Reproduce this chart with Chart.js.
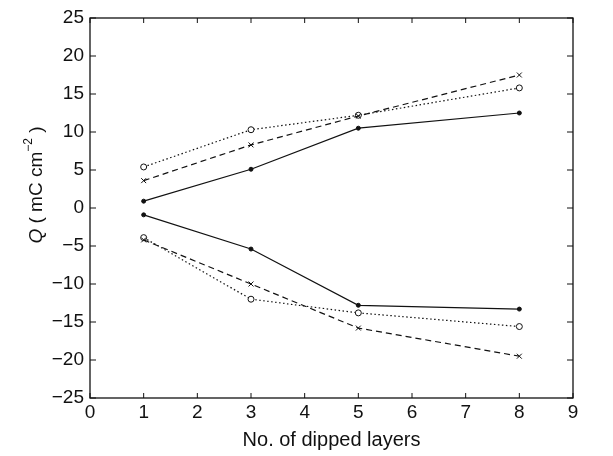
<!DOCTYPE html>
<html>
<head>
<meta charset="utf-8">
<script src="https://cdn.jsdelivr.net/npm/chart.js@4"></script>
<style>
  html, body { margin: 0; padding: 0; background: #fff; }
  #wrap { width: 613px; height: 456px; }
</style>
</head>
<body>
<div id="wrap"><canvas id="c"></canvas></div>
<script>
// number of dipped layers
const layers = [1, 3, 5, 8];
// upper branch
const upSolid  = [0.9, 5.1, 10.5, 12.5];
const upDashed = [3.6, 8.3, 12.1, 17.5];
const upDotted = [5.4, 10.3, 12.2, 15.8];
// lower branch
const lowSolid  = [-0.9, -5.4, -12.8, -13.3];
const lowDashed = [-4.2, -10.0, -15.8, -19.5];
const lowDotted = [-3.9, -12.0, -13.8, -15.6];

const FONT = 'Liberation Sans, Arial, sans-serif';

const pts = (ys) => layers.map((x, i) => ({ x, y: ys[i] }));

const styles = {
  solid:  { borderDash: [], pointStyle: 'circle', pointRadius: 2, pointBackgroundColor: '#111' },
  dashed: { borderDash: [6, 4], pointStyle: 'crossRot', pointRadius: 3.5, pointBackgroundColor: '#111' },
  dotted: { borderDash: [1.5, 2.5], pointStyle: 'circle', pointRadius: 3, pointBackgroundColor: '#fff' }
};

const mk = (label, ys, kind) => Object.assign({
  label,
  data: pts(ys),
  borderColor: '#111',
  borderWidth: 1.2,
  pointBorderColor: '#111',
  pointBorderWidth: 1,
  tension: 0,
  fill: false
}, styles[kind]);

// frame, inward ticks and the y title
const framePlugin = {
  id: 'frame',
  afterDraw(chart) {
    const { ctx, chartArea: a, scales: { x, y } } = chart;
    ctx.save();
    ctx.strokeStyle = '#111';
    ctx.lineWidth = 1.3;
    ctx.strokeRect(a.left, a.top, a.right - a.left, a.bottom - a.top);
    ctx.lineWidth = 1;
    ctx.beginPath();
    for (let v = 0; v <= 9; v++) {
      const px = x.getPixelForValue(v);
      ctx.moveTo(px, a.bottom); ctx.lineTo(px, a.bottom - 5);
      ctx.moveTo(px, a.top); ctx.lineTo(px, a.top + 5);
    }
    for (let v = -25; v <= 25; v += 5) {
      const py = y.getPixelForValue(v);
      ctx.moveTo(a.left, py); ctx.lineTo(a.left + 6, py);
      ctx.moveTo(a.right, py); ctx.lineTo(a.right - 6, py);
    }
    ctx.stroke();

    // y title: Q ( mC cm^-2 )
    ctx.translate(37, 185);
    ctx.rotate(-Math.PI / 2);
    ctx.fillStyle = '#111';
    ctx.textBaseline = 'middle';
    const parts = [
      { t: 'Q', f: 'italic 19px ' + FONT, dy: 0 },
      { t: ' ( mC cm', f: '19px ' + FONT, dy: 0 },
      { t: '−2', f: '12px ' + FONT, dy: -8 },
      { t: ' )', f: '19px ' + FONT, dy: 0 }
    ];
    let w = 0;
    parts.forEach(p => { ctx.font = p.f; w += ctx.measureText(p.t).width; });
    let cx = -w / 2;
    parts.forEach(p => {
      ctx.font = p.f;
      ctx.fillText(p.t, cx, p.dy);
      cx += ctx.measureText(p.t).width;
    });
    ctx.restore();
  }
};

new Chart(document.getElementById('c'), {
  type: 'line',
  data: {
    datasets: [
      mk('upper solid', upSolid, 'solid'),
      mk('upper dashed', upDashed, 'dashed'),
      mk('upper dotted', upDotted, 'dotted'),
      mk('lower solid', lowSolid, 'solid'),
      mk('lower dashed', lowDashed, 'dashed'),
      mk('lower dotted', lowDotted, 'dotted')
    ]
  },
  options: {
    responsive: true,
    maintainAspectRatio: false,
    animation: false,
    layout: { padding: { left: 0, right: 40, top: 18, bottom: 0 } },
    plugins: { legend: { display: false }, tooltip: { enabled: false } },
    scales: {
      x: {
        type: 'linear',
        min: 0, max: 9,
        grid: { display: false, drawTicks: false },
        border: { display: false },
        ticks: { stepSize: 1, color: '#111', font: { family: FONT, size: 19 }, padding: 3 },
        title: { display: true, text: 'No. of dipped layers', color: '#111', font: { family: FONT, size: 20 }, padding: { top: 4 } },
        afterFit(s) { s.height = 58; }
      },
      y: {
        min: -25, max: 25,
        grid: { display: false, drawTicks: false },
        border: { display: false },
        ticks: { stepSize: 5, color: '#111', font: { family: FONT, size: 19 }, padding: 6,
          callback: v => (v < 0 ? '−' + Math.abs(v) : String(v)) },
        afterFit(s) { s.width = 90; }
      }
    }
  },
  plugins: [framePlugin]
});
</script>
</body>
</html>
